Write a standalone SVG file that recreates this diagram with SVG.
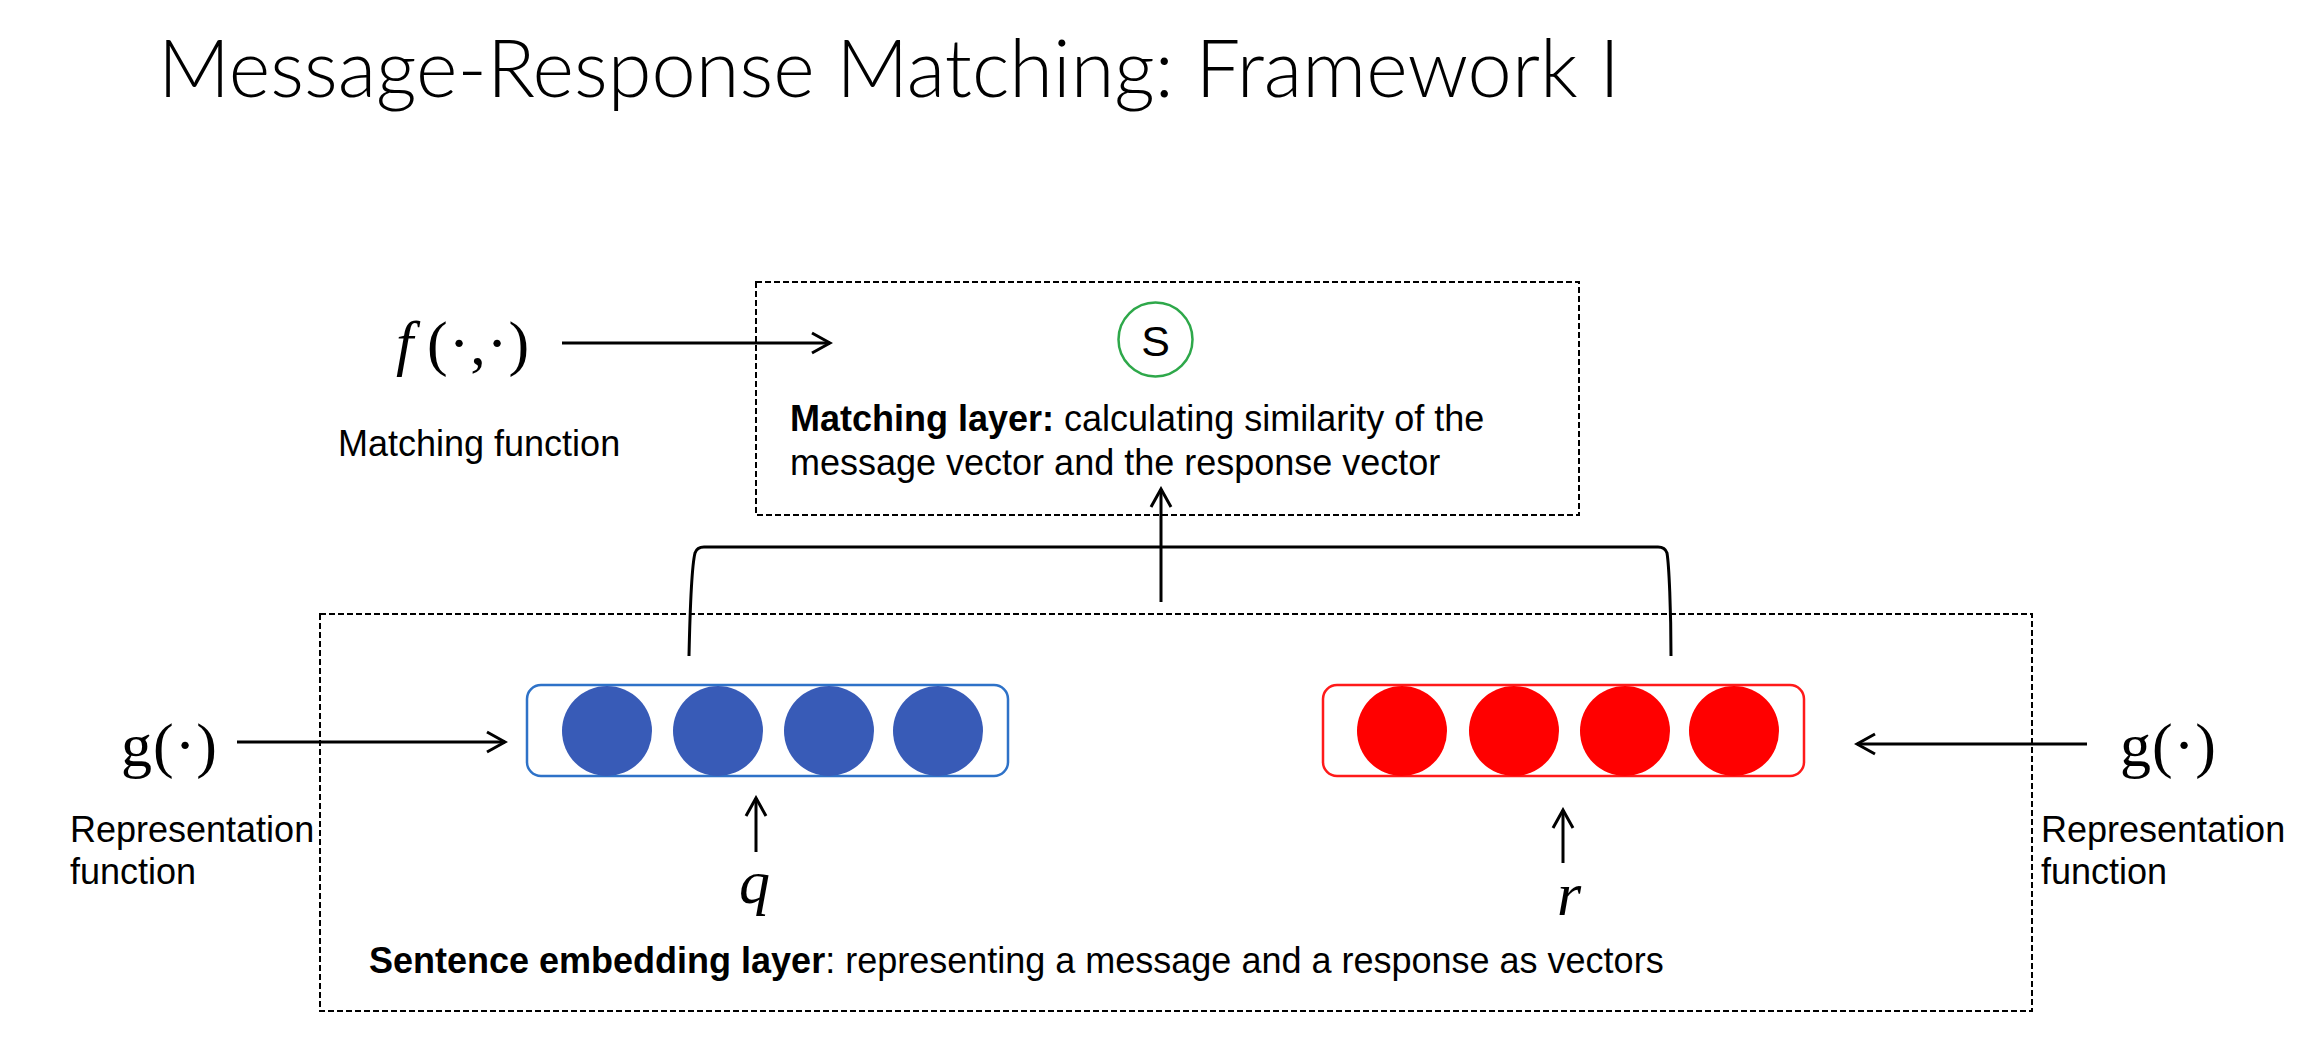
<svg xmlns="http://www.w3.org/2000/svg" width="2304" height="1060" viewBox="0 0 2304 1060">
<style>
.lbl{font-family:"Liberation Sans",Arial,sans-serif;font-size:36px;fill:#000}
.b{font-weight:bold}
.math{font-family:"Liberation Serif","Times New Roman",serif;font-size:62px;fill:#000}
.it{font-style:italic}
.dash{fill:none;stroke:#000;stroke-width:2;stroke-dasharray:6 3}
.conn{fill:none;stroke:#000;stroke-width:3}
</style>
<defs>
<marker id="ah" viewBox="0 0 24 24" refX="21" refY="12" markerWidth="24" markerHeight="24" markerUnits="userSpaceOnUse" orient="auto">
<path d="M3,2 L21,12 L3,22" fill="none" stroke="#000" stroke-width="3"/>
</marker>
</defs>
<rect width="2304" height="1060" fill="#fff"/>
<text id="title" x="158" y="97" font-family="Lato,'Open Sans',sans-serif" font-weight="300" font-size="80" textLength="1462" lengthAdjust="spacingAndGlyphs" fill="#000">Message-Response Matching: Framework I</text>

<g id="matching-layer">
<rect class="dash" x="756" y="282" width="823" height="233"/>
<text class="lbl" x="790" y="431"><tspan class="b">Matching layer:</tspan> calculating similarity of the</text>
<text class="lbl" x="790" y="475">message vector and the response vector</text>
</g>
<g id="node-s">
<circle cx="1155.5" cy="339.5" r="37" fill="#fff" stroke="#2EA84A" stroke-width="2.5"/>
<text x="1155.5" y="356" text-anchor="middle" font-family="'Liberation Sans',Arial,sans-serif" font-size="43" fill="#000">S</text>
</g>
<g id="matching-function">
<text class="math it" x="396" y="364" font-size="64">f</text>
<text class="math" x="427" y="364" letter-spacing="1">(·,·)</text>
<text class="lbl" x="338" y="456">Matching function</text>
</g>

<g id="embedding-layer">
<rect class="dash" x="320" y="614" width="1712" height="397"/>
<text class="lbl" x="369" y="973"><tspan class="b">Sentence embedding layer</tspan>: representing a message and a response as vectors</text>
</g>
<g id="q-vector">
<rect x="527" y="685" width="481" height="91" rx="14" fill="#fff" stroke="#2E72C8" stroke-width="2.5"/>
<circle cx="607" cy="731" r="45" fill="#385BB7"/>
<circle cx="718" cy="731" r="45" fill="#385BB7"/>
<circle cx="829" cy="731" r="45" fill="#385BB7"/>
<circle cx="938" cy="731" r="45" fill="#385BB7"/>
</g>
<g id="r-vector">
<rect x="1323" y="685" width="481" height="91" rx="14" fill="#fff" stroke="#FF1A1A" stroke-width="2.5"/>
<circle cx="1402" cy="731" r="45" fill="#FF0000"/>
<circle cx="1514" cy="731" r="45" fill="#FF0000"/>
<circle cx="1625" cy="731" r="45" fill="#FF0000"/>
<circle cx="1734" cy="731" r="45" fill="#FF0000"/>
</g>
<g id="q-input">
<text class="math it" x="739" y="903">q</text>
</g>
<g id="r-input">
<text class="math it" x="1557" y="915">r</text>
</g>
<g id="g-left">
<text class="math" x="121" y="766" letter-spacing="1">g(·)</text>
<text class="lbl" x="70" y="842">Representation</text>
<text class="lbl" x="70" y="884">function</text>
</g>
<g id="g-right">
<text class="math" x="2120" y="766" letter-spacing="1">g(·)</text>
<text class="lbl" x="2041" y="842">Representation</text>
<text class="lbl" x="2041" y="884">function</text>
</g>

<g id="connectors">
<line class="conn" x1="562" y1="343" x2="830" y2="343" marker-end="url(#ah)"/>
<line class="conn" x1="237" y1="742" x2="505" y2="742" marker-end="url(#ah)"/>
<line class="conn" x1="2087" y1="744" x2="1857" y2="744" marker-end="url(#ah)"/>
<line class="conn" x1="756" y1="852" x2="756" y2="798" marker-end="url(#ah)"/>
<line class="conn" x1="1563" y1="863" x2="1563" y2="810" marker-end="url(#ah)"/>
<line class="conn" x1="1161" y1="602" x2="1161" y2="489" marker-end="url(#ah)"/>
<path class="conn" stroke-width="3.5" d="M689,656 C690,610 692,565 695,553 Q697,547 704,547 L1658,547 Q1665,547 1667,553 C1669,565 1671,610 1671,656"/>
</g>
</svg>
